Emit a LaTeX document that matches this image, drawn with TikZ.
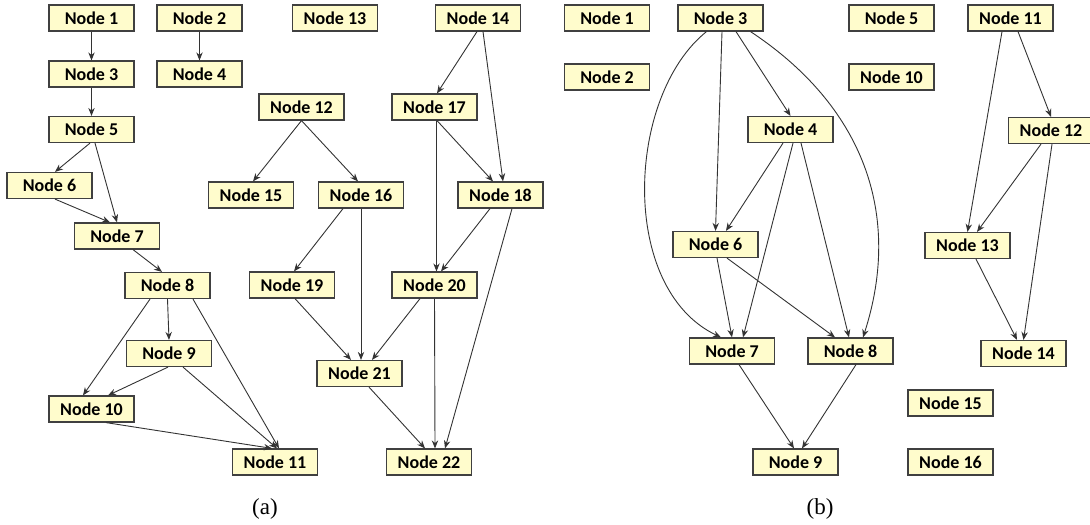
\documentclass[tikz,border=0pt]{standalone}
\usepackage{fontspec}
\setmainfont{Liberation Serif}
\newfontfamily\boxfont{Carlito}
\usetikzlibrary{arrows.meta}

\tikzset{
  box/.style={draw=black!75, fill=yellow!20, line width=0.6pt,
    minimum width=42.5pt, minimum height=13pt, inner sep=0pt,
    font=\boxfont\bfseries\fontsize{9}{10}\selectfont},
  link/.style={->, draw=black!80, line width=0.45pt}
}

\begin{document}
\begin{tikzpicture}[x=0.5pt, y=-0.5pt, >={Stealth[length=4pt,width=3.2pt]}]
\useasboundingbox (0,0) rectangle (1090,524);

% (a)
\node[box] (a1)  at (91.5,18)   {Node 1};
\node[box] (a2)  at (199.5,18)  {Node 2};
\node[box] (a3)  at (91.5,74)   {Node 3};
\node[box] (a4)  at (199.5,74)  {Node 4};
\node[box] (a5)  at (91.5,129.5) {Node 5};
\node[box] (a6)  at (49.5,185.5) {Node 6};
\node[box] (a7)  at (117,236)   {Node 7};
\node[box] (a8)  at (167.5,285.5) {Node 8};
\node[box] (a9)  at (169,353.5) {Node 9};
\node[box] (a10) at (91.5,409)  {Node 10};
\node[box] (a11) at (275,462)   {Node 11};
\node[box] (a12) at (301.5,107) {Node 12};
\node[box] (a13) at (335,18)    {Node 13};
\node[box] (a14) at (478,18)    {Node 14};
\node[box] (a15) at (251,195)   {Node 15};
\node[box] (a16) at (361,195)   {Node 16};
\node[box] (a17) at (434.5,107) {Node 17};
\node[box] (a18) at (500.5,195) {Node 18};
\node[box] (a19) at (292,285)   {Node 19};
\node[box] (a20) at (434.5,285) {Node 20};
\node[box] (a21) at (359.5,373.5) {Node 21};
\node[box] (a22) at (429,462)   {Node 22};
\node (capa) at (265,509) {\fontsize{11.5}{13}\selectfont (a)};

\draw[link] (a1.south) -- (a3.north);
\draw[link] (a2.south) -- (a4.north);
\draw[link] (a3.south) -- (a5.north);
\draw[link] ([xshift=-0.75pt]a5.south) -- ([xshift=2.75pt]a6.north);
\draw[link] ([xshift=1.75pt]a5.south) -- (a7.north);
\draw[link] ([xshift=2.75pt]a6.south) -- ([xshift=-3.5pt]a7.north);
\draw[link] ([xshift=8pt]a7.south) -- ([xshift=-2.75pt]a8.north);
\draw[link] (a8.south) -- (a9.north);
\draw[link] ([xshift=-8.75pt]a8.south) -- ([xshift=-4.25pt]a10.north);
\draw[link] ([xshift=12.75pt]a8.south) -- ([xshift=2pt]a11.north);
\draw[link] ([xshift=-0.5pt]a9.south) -- ([xshift=8.25pt]a10.north);
\draw[link] ([xshift=7pt]a9.south) -- ([xshift=1pt]a11.north);
\draw[link] ([xshift=7.25pt]a10.south) -- ([xshift=-1.5pt]a11.north);
\draw[link] (a12.south) -- ([xshift=1pt]a15.north);
\draw[link] (a12.south) -- ([xshift=-1.5pt]a16.north);
\draw[link] ([xshift=-0.5pt]a14.south) -- ([xshift=1.25pt]a17.north);
\draw[link] ([xshift=2.5pt]a14.south) -- ([xshift=1.25pt]a18.north);
\draw[link] ([xshift=1.25pt]a17.south) -- ([xshift=-3.75pt]a18.north);
\draw[link] ([xshift=1pt]a17.south) -- ([xshift=1pt]a20.north);
\draw[link] ([xshift=-9pt]a16.south) -- ([xshift=1pt]a19.north);
\draw[link] (a16.south) -- ([xshift=0.75pt]a21.north);
\draw[link] ([xshift=-5.25pt]a18.south) -- ([xshift=3.25pt]a20.north);
\draw[link] ([xshift=5.75pt]a18.south) -- ([xshift=8pt]a22.north);
\draw[link] ([xshift=1.5pt]a19.south) -- ([xshift=-4.25pt]a21.north);
\draw[link] ([xshift=-7.25pt]a20.south) -- ([xshift=6.25pt]a21.north);
\draw[link] (a20.south) -- ([xshift=3pt]a22.north);
\draw[link] ([xshift=4.75pt]a21.south) -- ([xshift=-2pt]a22.north);

% (b)
\node[box] (b1)  at (607,18)    {Node 1};
\node[box] (b2)  at (607,77)    {Node 2};
\node[box] (b3)  at (720.5,18)  {Node 3};
\node[box] (b4)  at (790.5,129.5) {Node 4};
\node[box] (b5)  at (891.5,18)  {Node 5};
\node[box] (b6)  at (715.5,244.5) {Node 6};
\node[box] (b7)  at (732,351)   {Node 7};
\node[box] (b8)  at (850.5,351) {Node 8};
\node[box] (b9)  at (795.5,462) {Node 9};
\node[box] (b10) at (891.5,77)  {Node 10};
\node[box] (b11) at (1010.5,18) {Node 11};
\node[box] (b12) at (1051,130.5) {Node 12};
\node[box] (b13) at (967.5,245.5) {Node 13};
\node[box] (b14) at (1023.5,353.5) {Node 14};
\node[box] (b15) at (950.5,403) {Node 15};
\node[box] (b16) at (950.5,462) {Node 16};
\node (capb) at (820,509) {\fontsize{11.5}{13}\selectfont (b)};

\draw[link] ([xshift=0.75pt]b3.south) -- (b6.north);
\draw[link] ([xshift=7.75pt]b3.south) -- (b4.north);
\draw[link] ([xshift=-7pt]b3.south) .. controls +(-80,64) and +(-103,-49) .. ([xshift=-5.5pt]b7.north);
\draw[link] ([xshift=15pt]b3.south) .. controls +(112,74) and +(40,-124) .. ([xshift=6.25pt]b8.north);
\draw[link] ([xshift=-3.75pt]b4.south) -- ([xshift=5.25pt]b6.north);
\draw[link] ([xshift=1.25pt]b4.south) -- ([xshift=5.5pt]b7.north);
\draw[link] ([xshift=5.25pt]b4.south) -- ([xshift=-0.75pt]b8.north);
\draw[link] ([xshift=0.75pt]b6.south) -- (b7.north);
\draw[link] ([xshift=5.75pt]b6.south) -- ([xshift=-7.75pt]b8.north);
\draw[link] ([xshift=3.5pt]b7.south) -- ([xshift=-0.75pt]b9.north);
\draw[link] ([xshift=2.75pt]b8.south) -- ([xshift=3.25pt]b9.north);
\draw[link] ([xshift=-4.25pt]b11.south) -- (b13.north);
\draw[link] ([xshift=3.75pt]b11.south) -- (b12.north);
\draw[link] ([xshift=-5pt]b12.south) -- ([xshift=4.75pt]b13.north);
\draw[link] ([xshift=0.5pt]b12.south) -- (b14.north);
\draw[link] ([xshift=4.25pt]b13.south) -- ([xshift=-3.25pt]b14.north);
\end{tikzpicture}
\end{document}
